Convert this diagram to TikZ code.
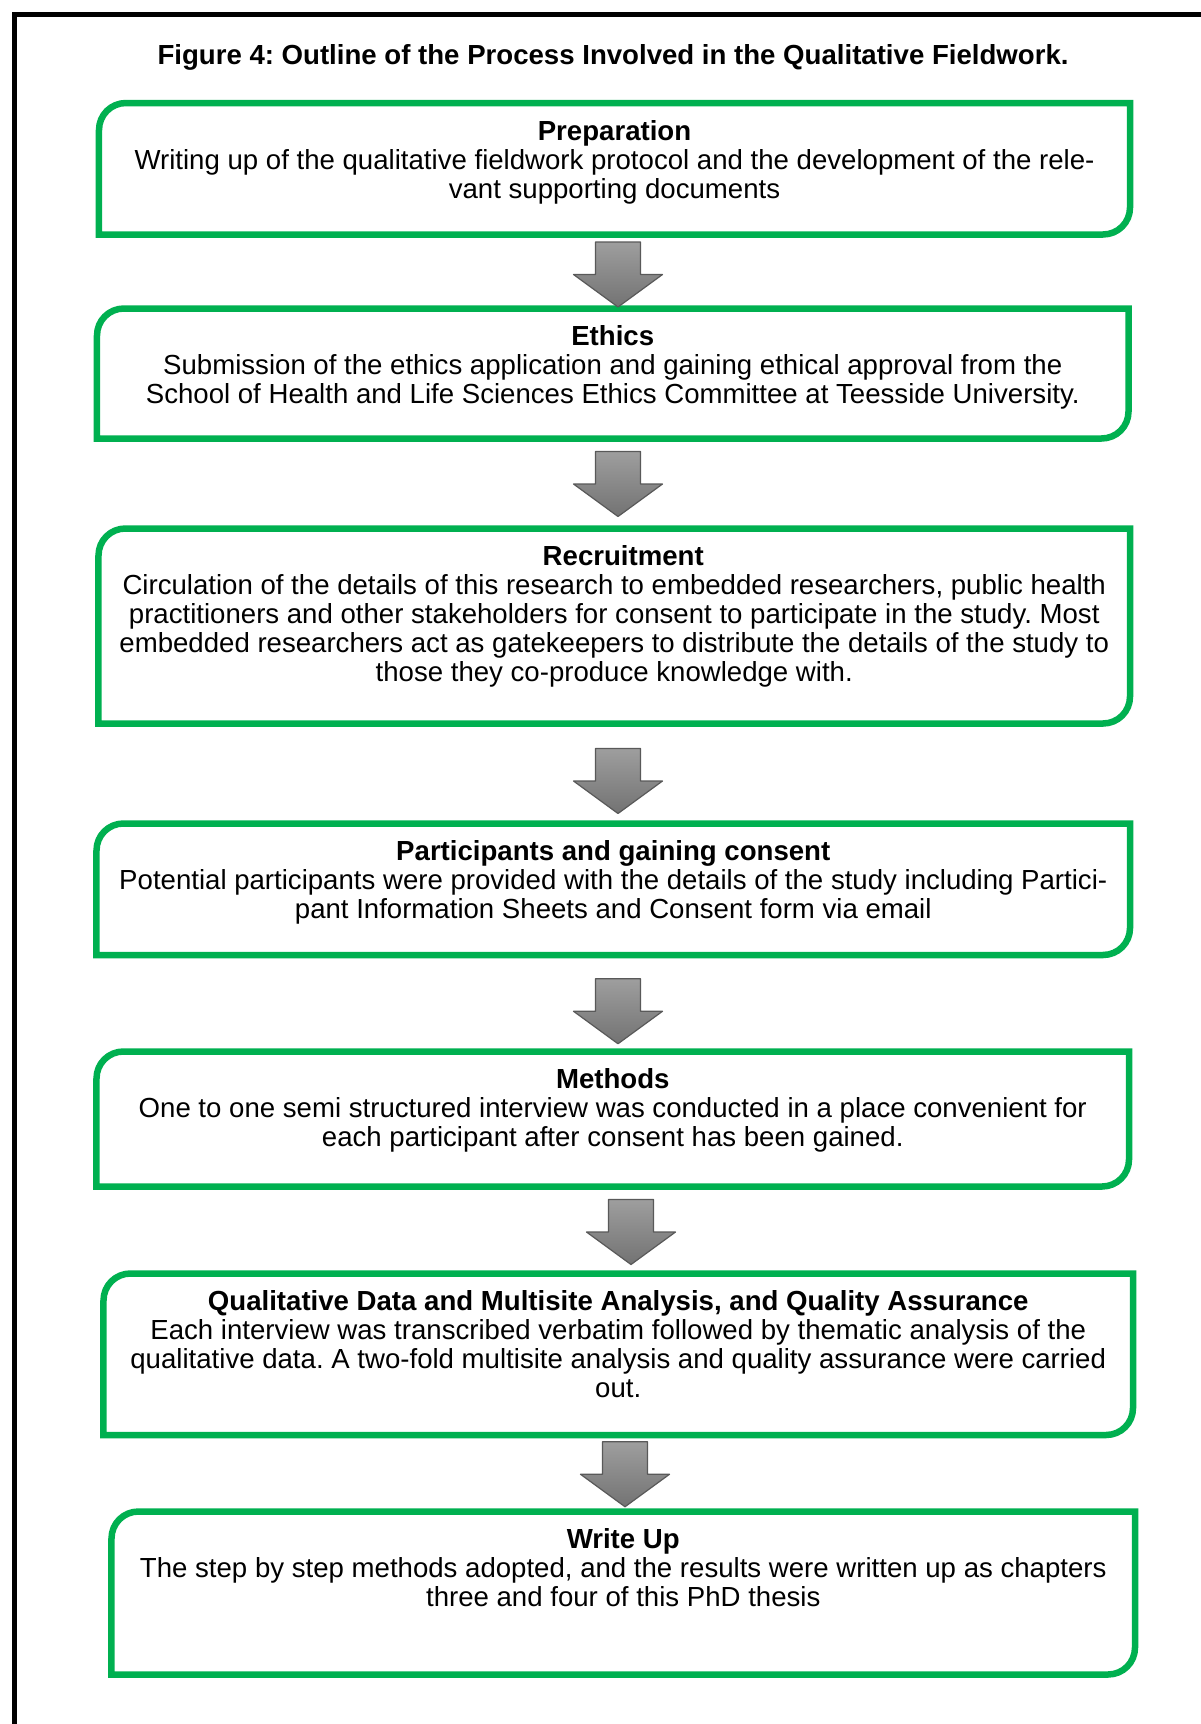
\documentclass[tikz,border=0pt]{standalone}
\usepackage{fontspec}
\setmainfont{Liberation Sans}
\usetikzlibrary{calc}
\definecolor{boxgreen}{HTML}{00B050}

% outline with rounded top-left and bottom-right corners
\newcommand\stepoutline[1]{%
  \draw[greenline] (#1.south west) -- ($(#1.north west)+(0,27)$)
    .. controls ($(#1.north west)+(0,12)$) and ($(#1.north west)+(12,0)$)
    .. ($(#1.north west)+(27,0)$)
    -- (#1.north east) -- ($(#1.south east)+(0,-27)$)
    .. controls ($(#1.south east)+(0,-12)$) and ($(#1.south east)+(-12,0)$)
    .. ($(#1.south east)+(-27,0)$) -- cycle;}

% block arrow between two steps: from, to, x position, downward offset
\newcommand\flowarrow[4]{%
  \draw[blockarrow] let \p1=($(#1.south)!0.5!(#2.north)$), \p2=(#3,0) in
    (\x2-22.5bp,\y1-#4bp+32.5bp) -- (\x2+22.5bp,\y1-#4bp+32.5bp)
    -- (\x2+22.5bp,\y1-#4bp) -- (\x2+44.5bp,\y1-#4bp)
    -- (\x2,\y1-#4bp-32.5bp)
    -- (\x2-44.5bp,\y1-#4bp) -- (\x2-22.5bp,\y1-#4bp) -- cycle;}

\begin{document}
\frenchspacing
\begin{tikzpicture}[x=1bp,y=-1bp,
  stepbox/.style={rectangle, inner sep=0pt, outer sep=0pt},
  greenline/.style={draw=boxgreen, line width=6.5bp},
  steptext/.style={anchor=north, align=center, inner sep=0pt,
    font=\fontsize{27.6bp}{29bp}\selectfont},
  blockarrow/.style={draw=black!65, line width=1.2bp, top color=black!38,
    bottom color=black!55, line join=round},
]
\fill[white] (0,0) rectangle (1200,1724);
\useasboundingbox (0,0) rectangle (1200,1724);

% frame
\draw[line width=5.5bp] (14.5,1730) -- (14.5,14.5) -- (1206,14.5);

\node[anchor=base, inner sep=0pt, font=\fontsize{27.6bp}{29bp}\selectfont\bfseries]
  (title) at (613,64) {Figure 4: Outline of the Process Involved in the Qualitative Fieldwork.};

% step frames
\node[stepbox, minimum width=1031bp,   minimum height=131.5bp] (b1) at (614.5,168.75) {};
\node[stepbox, minimum width=1031.5bp, minimum height=130bp]   (b2) at (612.75,373.5) {};
\node[stepbox, minimum width=1031.5bp, minimum height=195bp]   (b3) at (614.25,626) {};
\node[stepbox, minimum width=1033.5bp, minimum height=131.5bp] (b4) at (613.25,889.25) {};
\node[stepbox, minimum width=1032.5bp, minimum height=135bp]   (b5) at (612.75,1119) {};
\node[stepbox, minimum width=1029.5bp, minimum height=161.5bp] (b6) at (618.25,1354.25) {};
\node[stepbox, minimum width=1023.5bp, minimum height=163bp]   (b7) at (623.25,1593) {};

\foreach \b in {b1,b2,b3,b4,b5,b6,b7} {\stepoutline{\b}}

% step texts
\node[steptext] (t1) at ($(b1.north)+(0,17)$) {\rule{0pt}{20bp}\textbf{Preparation}\\
  Writing up of the qualitative fieldwork protocol and the development of the rele-\\
  vant supporting documents};
\node[steptext] (t2) at ($(b2.north)+(0,17)$) {\rule{0pt}{20bp}\textbf{Ethics}\\
  Submission of the ethics application and gaining ethical approval from the\\
  School of Health and Life Sciences Ethics Committee at Teesside University.};
\node[steptext] (t3) at ($(b3.north)+(0,17)$) {\rule{0pt}{20bp}\hspace*{18bp}\textbf{Recruitment}\\
  Circulation of the details of this research to embedded researchers, public health\\
  practitioners and other stakeholders for consent to participate in the study. Most\\
  embedded researchers act as gatekeepers to distribute the details of the study to\\
  those they co-produce knowledge with.};
\node[steptext] (t4) at ($(b4.north)+(0,17)$) {\rule{0pt}{20bp}\textbf{Participants and gaining consent}\\
  Potential participants were provided with the details of the study including Partici-\\
  pant Information Sheets and Consent form via email};
\node[steptext] (t5) at ($(b5.north)+(0,17)$) {\rule{0pt}{20bp}\textbf{Methods}\\
  One to one semi structured interview was conducted in a place convenient for\\
  each participant after consent has been gained.};
\node[steptext] (t6) at ($(b6.north)+(0,17)$) {\rule{0pt}{20bp}\textbf{Qualitative Data and Multisite Analysis, and Quality Assurance}\\
  Each interview was transcribed verbatim followed by thematic analysis of the\\
  qualitative data. A two-fold multisite analysis and quality assurance were carried\\
  out.};
\node[steptext] (t7) at ($(b7.north)+(0,17)$) {\rule{0pt}{20bp}\textbf{Write Up}\\
  The step by step methods adopted, and the results were written up as chapters\\
  three and four of this PhD thesis};

% arrows between steps
\flowarrow{b1}{b2}{618}{3}
\flowarrow{b2}{b3}{618}{0.5}
\flowarrow{b3}{b4}{618}{7.5}
\flowarrow{b4}{b5}{618}{8}
\flowarrow{b5}{b6}{631}{2}
\flowarrow{b6}{b7}{625}{1}
\end{tikzpicture}
\end{document}
